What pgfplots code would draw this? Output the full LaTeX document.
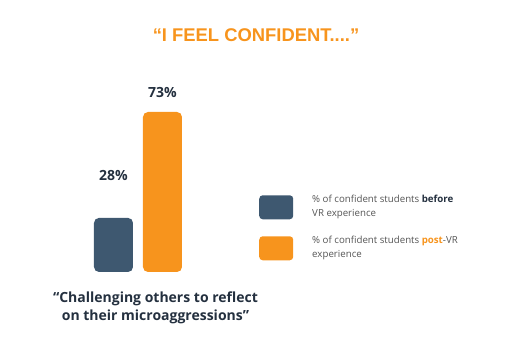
\documentclass[border=0pt]{standalone}
\usepackage{pgfplots}
\pgfplotsset{compat=1.18}
\usepackage{fontspec}
\setmainfont{Open Sans}
\newfontfamily\titlefont{Liberation Sans}
\definecolor{navy}{HTML}{3E5870}
\definecolor{orng}{HTML}{F7941D}
\definecolor{txtdark}{HTML}{24303F}
\definecolor{txtgray}{HTML}{555555}
\begin{document}
\begin{tikzpicture}
\useasboundingbox (0,0) rectangle (515pt,359pt);
\node[font=\titlefont\bfseries\fontsize{18.4}{20}\selectfont, text=orng] at (256pt,324pt) {“I FEEL CONFIDENT....”};
\node[font=\bfseries\fontsize{14}{18}\selectfont, text=txtdark, align=center] at (155.5pt,51pt) {“Challenging others to reflect\\on their microaggressions”};
\begin{axis}[
  at={(64.5pt,87pt)}, anchor=south west,
  scale only axis, width=147pt, height=160pt,
  xmin=-1, xmax=2, ymin=5, ymax=73,
  hide axis, clip=false,
  ybar, bar width=39pt, bar shift=0pt,
  legend style={at={(1.303,0.512)}, anchor=north west, draw=none, fill=none,
    font=\fontsize{9.7}{14}\selectfont, text=txtgray,
    row sep=14pt, column sep=19pt,
    nodes={inner sep=0pt}},
  legend cell align=left,
  legend image code/.code={\fill[rounded corners=3.5pt,#1] (0pt,-18pt) rectangle (34pt,6pt);},
]
\addplot[fill=navy, draw=none, rounded corners=5pt] coordinates {(0,28)};
\addlegendentry{\begin{tabular}{@{}l@{}}\% of confident students \textbf{\color{txtdark}before}\\VR experience\end{tabular}}
\addplot[fill=orng, draw=none, rounded corners=5pt] coordinates {(1,73)};
\addlegendentry{\begin{tabular}{@{}l@{}}\% of confident students \textbf{\color{orng}post}-VR\\experience\end{tabular}}
\node[font=\bfseries\fontsize{14}{16}\selectfont, text=txtdark] at (axis cs:0,28) [yshift=42pt] {28\%};
\node[font=\bfseries\fontsize{14}{16}\selectfont, text=txtdark] at (axis cs:1,73) [yshift=20pt] {73\%};
\end{axis}
\end{tikzpicture}
\end{document}
